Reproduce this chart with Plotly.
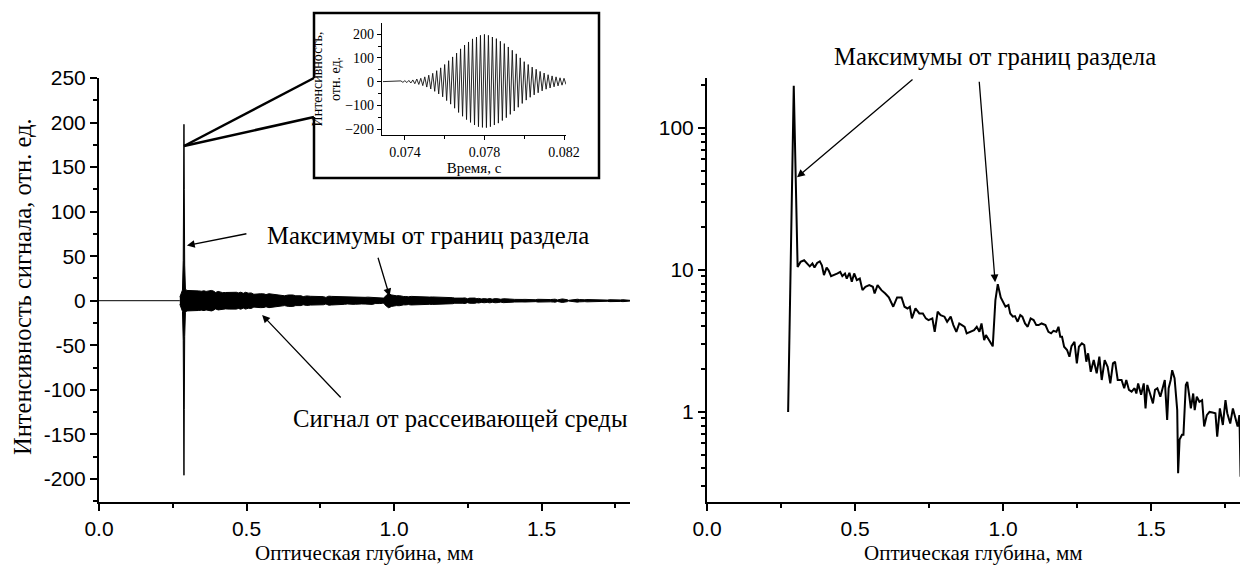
import math
import plotly.graph_objects as go

# ---------------- data ----------------
# smoothed envelope (right panel, also the body of the left panel)
depth_mm = [0.274, 0.293, 0.306, 0.316, 0.328, 0.338, 0.347, 0.356, 0.363, 0.372,
            0.381, 0.388, 0.395, 0.404, 0.411, 0.419, 0.429, 0.441, 0.450, 0.457,
            0.466, 0.472, 0.481, 0.489, 0.497, 0.506, 0.516, 0.525, 0.535, 0.548,
            0.560, 0.566, 0.576, 0.589, 0.602, 0.614, 0.629, 0.642, 0.657, 0.667,
            0.677, 0.685, 0.692, 0.704, 0.717, 0.729, 0.739, 0.748, 0.761, 0.769,
            0.779, 0.789, 0.802, 0.811, 0.823, 0.832, 0.842, 0.852, 0.861, 0.870,
            0.877, 0.890, 0.902, 0.911, 0.920, 0.927, 0.936, 0.942, 0.952, 0.961,
            0.965, 0.974, 0.982, 0.992, 0.999, 1.008, 1.018, 1.024, 1.033, 1.040,
            1.049, 1.058, 1.065, 1.074, 1.083, 1.093, 1.103, 1.112, 1.120, 1.130,
            1.143, 1.153, 1.162, 1.170, 1.180, 1.187, 1.193, 1.199, 1.206, 1.216,
            1.224, 1.231, 1.241, 1.249, 1.256, 1.266, 1.274, 1.281, 1.287, 1.296,
            1.306, 1.316, 1.325, 1.333, 1.343, 1.353, 1.362, 1.371, 1.378, 1.387,
            1.400, 1.409, 1.416, 1.425, 1.434, 1.444, 1.450, 1.456, 1.466, 1.475,
            1.481, 1.487, 1.496, 1.506, 1.513, 1.521, 1.531, 1.541, 1.546, 1.554,
            1.559, 1.566, 1.571, 1.579, 1.588, 1.591, 1.596, 1.604, 1.609, 1.617,
            1.622, 1.629, 1.634, 1.642, 1.647, 1.654, 1.663, 1.672, 1.679, 1.688,
            1.697, 1.707, 1.717, 1.723, 1.732, 1.742, 1.751, 1.757, 1.767, 1.776,
            1.784, 1.792, 1.798, 1.802]

envelope = [1.0, 198, 10.5, 11.4, 11.7, 11.0, 10.6, 11.1, 10.4, 11.2,
            11.5, 10.8, 9.2, 10.4, 9.9, 9.05, 9.2, 9.45, 9.7, 9.05,
            9.45, 8.7, 9.55, 8.26, 9.45, 8.48, 8.7, 7.21, 7.62, 7.82,
            7.62, 6.83, 7.82, 7.21, 6.83, 6.41, 5.51, 6.41, 6.41, 5.51,
            5.36, 5.51, 4.56, 5.36, 4.94, 4.94, 4.56, 4.44, 4.56, 3.67,
            5.08, 4.81, 4.69, 4.32, 4.69, 4.09, 3.67, 4.2, 4.09, 3.98,
            3.58, 3.67, 3.77, 3.98, 3.67, 4.2, 3.21, 3.48, 3.21, 2.96,
            2.9, 6.14, 7.95, 6.41, 5.97, 5.51, 5.66, 4.94, 4.69, 4.73,
            4.32, 4.81, 4.69, 4.2, 3.98, 4.56, 4.44, 4.09, 4.09, 4.2,
            4.09, 3.67, 3.58, 3.73, 3.67, 3.98, 3.39, 3.39, 2.88, 2.73,
            2.45, 2.91, 3.12, 2.2, 2.88, 3.04, 2.96, 2.26, 2.59, 1.92,
            2.32, 1.87, 2.45, 1.68, 2.32, 2.08, 1.59, 2.2, 2.26, 1.68,
            1.68, 1.47, 1.68, 1.43, 1.39, 1.47, 1.35, 1.59, 1.32, 1.59,
            1.06, 1.55, 1.35, 1.15, 1.43, 1.47, 1.28, 1.55, 1.68, 0.88,
            1.47, 1.68, 1.97, 1.73, 1.03, 0.37, 0.64, 0.69, 0.69, 1.55,
            1.63, 1.28, 1.06, 1.35, 1.03, 1.28, 1.18, 1.21, 0.79, 0.95,
            1.0, 0.99, 0.98, 0.67, 1.06, 0.81, 1.21, 0.98, 0.83, 1.06,
            0.90, 0.79, 0.95, 0.35]

# raw signal near the first interface (left panel, narrow needle)
spike_depth = [0.274, 0.279, 0.283, 0.2855, 0.287, 0.288, 0.289, 0.2905, 0.293, 0.298]
spike_upper = [4, 10, 12, 45, 130, 198, 125, 40, 13, 11.5]
spike_lower = [-4, -10, -12, -45, -128, -196, -122, -40, -13, -11.5]

baseline_depth = [0.0, 0.274]
baseline_signal = [0, 0]

inset_time = [0.0729, 0.0737,
              0.0738, 0.0739, 0.0740, 0.0741, 0.0742, 0.0743, 0.0744, 0.0745, 0.0746, 0.0747,
              0.0748, 0.0749, 0.0750, 0.0751, 0.0752, 0.0753, 0.0754, 0.0755, 0.0756, 0.0757,
              0.0758, 0.0759, 0.0760, 0.0761, 0.0762, 0.0763, 0.0764, 0.0765, 0.0766, 0.0767,
              0.0768, 0.0769, 0.0770, 0.0771, 0.0772, 0.0773, 0.0774, 0.0775, 0.0776, 0.0777,
              0.0778, 0.0779, 0.0780, 0.0781, 0.0782, 0.0783, 0.0784, 0.0785, 0.0786, 0.0787,
              0.0788, 0.0789, 0.0790, 0.0791, 0.0792, 0.0793, 0.0794, 0.0795, 0.0796, 0.0797,
              0.0798, 0.0799, 0.0800, 0.0801, 0.0802, 0.0803, 0.0804, 0.0805, 0.0806, 0.0807,
              0.0808, 0.0809, 0.0810, 0.0811, 0.0812, 0.0813, 0.0814, 0.0815, 0.0816, 0.0817,
              0.0818, 0.0819, 0.0820, 0.0821]
inset_value = [0, 0,
               3, -3, 4, -4, 5, -6, 7, -9, 11, -12,
               14, -17, 20, -23, 27, -31, 35, -41, 46, -52,
               58, -64, 72, -80, 88, -95, 104, -112, 120, -130,
               138, -146, 154, -160, 167, -172, 180, -183, 188, -190,
               195, -193, 199, -194, 195, -190, 188, -183, 181, -175,
               170, -164, 160, -152, 146, -138, 132, -124, 117, -108,
               100, -92, 84, -78, 72, -66, 61, -56, 52, -47,
               43, -39, 36, -32, 29, -27, 24, -22, 20, -18,
               16, -15, 14, -12]

main_y_ticks = [-200, -150, -100, -50, 0, 50, 100, 150, 200, 250]
depth_ticks = [0.0, 0.5, 1.0, 1.5]
depth_labels = ["0.0", "0.5", "1.0", "1.5"]
log_ticks = [1, 10, 100]
log_minor = [0.3, 0.4, 0.5, 0.6, 0.7, 0.8, 0.9, 2, 3, 4, 5, 6, 7, 8, 9,
             20, 30, 40, 50, 60, 70, 80, 90, 200]
inset_x_ticks = [0.074, 0.078, 0.082]
inset_y_ticks = [-200, -100, 0, 100, 200]

# left panel signal = needle + envelope body (symmetric band)
left_depth = spike_depth + depth_mm[3:]
left_upper = spike_upper + envelope[3:]
left_lower = spike_lower + [-v for v in envelope[3:]]

# ---------------- figure ----------------
W, H = 1241, 567
SANS = "Liberation Sans, Arial, sans-serif"
SERIF = "Liberation Serif, Times New Roman, serif"


def px(x):
    return x / W


def py(y):
    return 1 - y / H


fig = go.Figure()
black_line = dict(color="black", width=1)

fig.add_trace(go.Scatter(x=baseline_depth, y=baseline_signal, mode="lines",
                         line=black_line, xaxis="x", yaxis="y", showlegend=False))
fig.add_trace(go.Scatter(x=left_depth, y=left_upper, mode="lines",
                         line=black_line, xaxis="x", yaxis="y", showlegend=False))
fig.add_trace(go.Scatter(x=left_depth, y=left_lower, mode="lines",
                         line=black_line, fill="tonexty", fillcolor="black",
                         xaxis="x", yaxis="y", showlegend=False))
fig.add_trace(go.Scatter(x=depth_mm, y=envelope, mode="lines",
                         line=dict(color="black", width=2),
                         xaxis="x2", yaxis="y2", showlegend=False))
fig.add_trace(go.Scatter(x=inset_time, y=inset_value, mode="lines",
                         line=dict(color="#111111", width=0.9),
                         xaxis="x3", yaxis="y3", showlegend=False))

axis_common = dict(showline=True, linecolor="black", linewidth=2, ticks="outside",
                   ticklen=7, tickwidth=1.5, tickcolor="black", showgrid=False,
                   zeroline=False, mirror=False, automargin=False,
                   tickfont=dict(family=SANS, size=21, color="black"))
minor_main = dict(ticklen=4, tickwidth=1.5, ticks="outside", tickcolor="black")

fig.update_layout(
    width=W, height=H,
    margin=dict(l=0, r=0, t=0, b=0, autoexpand=False),
    paper_bgcolor="white", plot_bgcolor="white",
    showlegend=False,
    hovermode=False,
    xaxis=dict(domain=[px(99), px(630)], anchor="y", range=[0, 1.8],
               tickvals=depth_ticks, ticktext=depth_labels,
               minor=dict(dtick=0.25, tick0=0, **minor_main), **axis_common),
    yaxis=dict(domain=[py(502), py(78)], anchor="x", range=[-226, 250],
               tickvals=main_y_ticks, ticktext=[str(v) for v in main_y_ticks],
               minor=dict(dtick=25, tick0=0, **minor_main), **axis_common),
    xaxis2=dict(domain=[px(707), px(1240)], anchor="y2", range=[0, 1.8],
                tickvals=depth_ticks, ticktext=depth_labels,
                minor=dict(dtick=0.25, tick0=0, **minor_main), **axis_common),
    yaxis2=dict(domain=[py(502), py(78)], anchor="x2", type="log",
                range=[-0.634, 2.352],
                tickvals=log_ticks, ticktext=["1", "10", "100"],
                minor=dict(tickvals=log_minor, **minor_main), **axis_common),
    xaxis3=dict(domain=[px(382), px(566)], anchor="y3", range=[0.07285, 0.0821],
                showline=True, linecolor="black", linewidth=1.2, ticks="outside",
                ticklen=4, tickwidth=1, tickcolor="black", showgrid=False,
                zeroline=False, automargin=False, tickvals=inset_x_ticks,
                ticktext=["0.074", "0.078", "0.082"],
                minor=dict(tickvals=[0.076, 0.080], ticklen=3, tickwidth=1,
                           ticks="outside", tickcolor="black"),
                tickfont=dict(family=SERIF, size=14, color="black"),
                title=dict(text="Время, с", standoff=1,
                           font=dict(family=SERIF, size=15, color="black"))),
    yaxis3=dict(domain=[py(135), py(23)], anchor="x3", range=[-225, 247],
                showline=True, linecolor="black", linewidth=1.2, ticks="outside",
                ticklen=4, tickwidth=1, tickcolor="black", showgrid=False,
                zeroline=False, automargin=False, tickvals=inset_y_ticks,
                ticktext=["\u2212200", "\u2212100", "0", "100", "200"],
                minor=dict(tickvals=[-150, -50, 50, 150], ticklen=3, tickwidth=1,
                           ticks="outside", tickcolor="black"),
                tickfont=dict(family=SERIF, size=14, color="black"),
                title=dict(text="Интенсивность,<br>отн. ед.", standoff=1,
                           font=dict(family=SERIF, size=14, color="black"))),
)

# inset frame with callout opening and leader lines (decoration, paper coords)
frame_path = (f"M {px(314)},{py(78)} L {px(314)},{py(13)} L {px(599)},{py(13)} "
              f"L {px(599)},{py(178)} L {px(314)},{py(178)} L {px(314)},{py(117)}")
fig.add_shape(type="path", xref="paper", yref="paper", path=frame_path,
              line=dict(color="black", width=2.5))
fig.add_shape(type="line", xref="paper", yref="paper",
              x0=px(184), y0=py(146), x1=px(314), y1=py(78),
              line=dict(color="black", width=2.5))
fig.add_shape(type="line", xref="paper", yref="paper",
              x0=px(184), y0=py(146), x1=px(314), y1=py(117),
              line=dict(color="black", width=2.5))

note_font = dict(family=SERIF, size=24.7, color="black")
xtitle_font = dict(family=SERIF, size=21, color="black")
ytitle_font = dict(family=SERIF, size=24.5, color="black")

# texts
fig.add_annotation(x=px(428), y=py(235), xref="paper", yref="paper",
                   text="Максимумы от границ раздела", showarrow=False,
                   font=note_font, xanchor="center", yanchor="middle")
fig.add_annotation(x=px(460), y=py(418), xref="paper", yref="paper",
                   text="Сигнал от рассеивающей среды", showarrow=False,
                   font=note_font, xanchor="center", yanchor="middle")
fig.add_annotation(x=px(995), y=py(57), xref="paper", yref="paper",
                   text="Максимумы от границ раздела", showarrow=False,
                   font=note_font, xanchor="center", yanchor="middle")

# axis titles
fig.add_annotation(x=px(364), y=py(553), xref="paper", yref="paper",
                   text="Оптическая глубина, мм", showarrow=False,
                   font=xtitle_font, xanchor="center", yanchor="middle")
fig.add_annotation(x=px(973), y=py(553), xref="paper", yref="paper",
                   text="Оптическая глубина, мм", showarrow=False,
                   font=xtitle_font, xanchor="center", yanchor="middle")
fig.add_annotation(x=px(22), y=py(287), xref="paper", yref="paper",
                   text="Интенсивность сигнала, отн. ед.", showarrow=False,
                   font=ytitle_font, textangle=-90, xanchor="center", yanchor="middle")

# arrows (heads at data points, tails offset in pixels)
arrow_style = dict(showarrow=True, text="", arrowhead=2, arrowsize=1.2,
                   arrowwidth=1.3, arrowcolor="black")
fig.add_annotation(x=0.298, y=62, xref="x", yref="y", ax=61, ay=-12, **arrow_style)
fig.add_annotation(x=0.985, y=5, xref="x", yref="y", ax=-12, ay=-40, **arrow_style)
fig.add_annotation(x=0.553, y=-16, xref="x", yref="y", ax=80, ay=84, **arrow_style)
# log axis: annotation positions are given in log10 units
fig.add_annotation(x=0.304, y=math.log10(45), xref="x2", yref="y2",
                   ax=117, ay=-99, **arrow_style)
fig.add_annotation(x=0.973, y=math.log10(8.2), xref="x2", yref="y2",
                   ax=-16, ay=-202, **arrow_style)

# remove the page's default body margin so the figure sits at the window origin
fig.write_html("out.html",
               config={"displayModeBar": False},
               post_script="document.body.style.margin='0';"
                           "document.body.style.overflow='hidden';")
